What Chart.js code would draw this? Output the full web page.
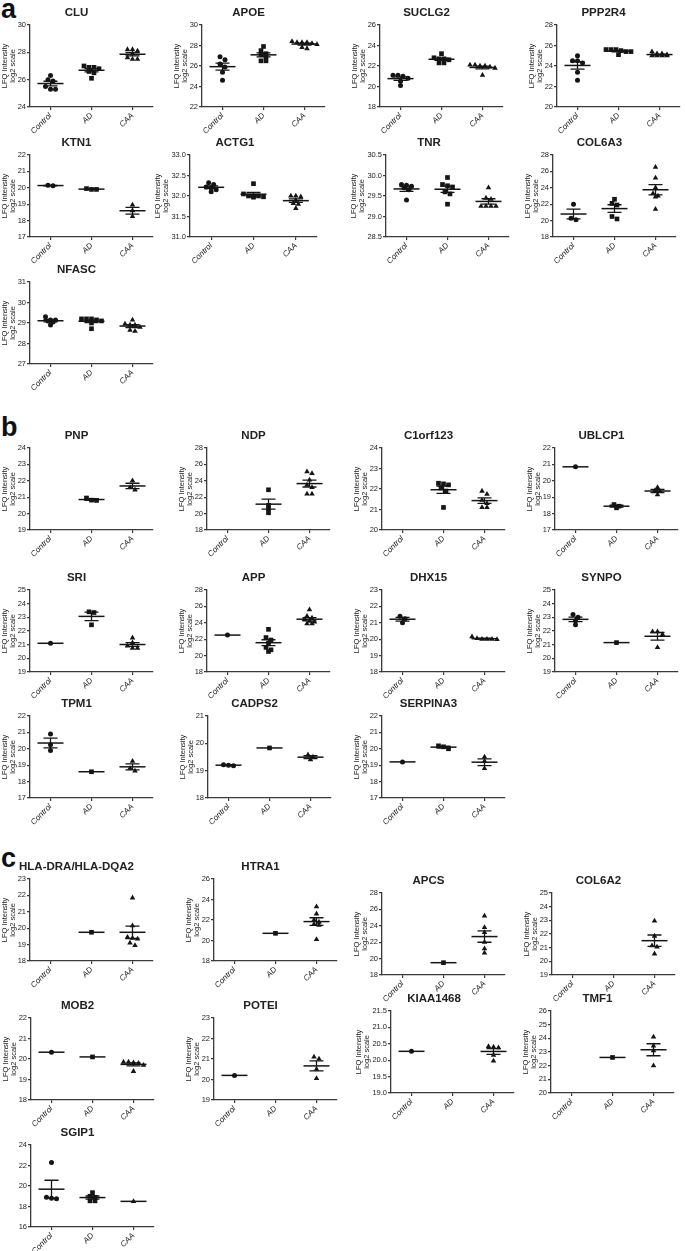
<!DOCTYPE html>
<html>
<head>
<meta charset="utf-8">
<script src="https://cdn.jsdelivr.net/npm/chart.js@4.4.0/dist/chart.umd.min.js"></script>
<style>
  body { margin: 0; background: #fff; }
  #fig { position: relative; width: 685px; height: 1251px; overflow: hidden; }
  .sec { position: absolute; left: 1px; font: bold 27px 'Liberation Sans', Arial, sans-serif; line-height: 1; color: #111; }
  canvas { position: absolute; }
</style>
</head>
<body>
<div id="fig">
  <div class="sec" style="top:-4px">a</div>
  <div class="sec" style="top:414px">b</div>
  <div class="sec" style="top:845px">c</div>
</div>
<script>
// groups on the x axis
const groups = ['Control', 'AD', 'CAA'];

// LFQ intensities (log2), one list per group: Control, AD, CAA
// panel a
const CLU = [[26.3, 26.0, 25.9, 25.5, 25.3, 25.3], [27.0, 26.9, 26.9, 26.8, 26.6, 26.5, 26.1], [28.2, 28.1, 28.2, 27.9, 27.5, 27.5, 27.6]];
const APOE = [[26.9, 26.6, 26.2, 25.9, 25.4, 24.6], [27.9, 27.5, 27.2, 27.1, 26.9, 26.5, 26.5], [28.4, 28.3, 28.3, 28.2, 28.3, 28.1, 27.7, 27.8]];
const SUCLG2 = [[21.1, 21.1, 21.0, 20.8, 20.5, 20.1], [23.2, 22.8, 22.7, 22.7, 22.6, 22.3, 22.3], [22.1, 22.1, 22.0, 22.0, 21.9, 21.8, 21.1]];
const PPP2R4 = [[25.0, 24.5, 24.5, 24.3, 23.4, 22.6], [25.6, 25.6, 25.6, 25.5, 25.4, 25.4, 25.1], [25.4, 25.2, 25.2, 25.1, 25.0, 25.0, 25.0, 25.0]];
const KTN1 = [[20.15, 20.12], [19.95, 19.9, 19.9], [18.95, 18.6, 18.25]];
const ACTG1 = [[32.32, 32.28, 32.22, 32.2, 32.15, 32.1], [32.3, 32.05, 32.0, 32.0, 32.0, 31.98, 31.97], [32.0, 32.0, 31.98, 31.9, 31.82, 31.8, 31.7]];
const TNR = [[29.78, 29.76, 29.74, 29.7, 29.65, 29.4], [29.95, 29.78, 29.75, 29.72, 29.6, 29.55, 29.3], [29.7, 29.45, 29.42, 29.25, 29.25, 29.25, 29.25]];
const COL6A3 = [[22.0, 20.3, 20.1], [22.6, 22.1, 21.9, 20.5, 20.2], [26.5, 25.2, 24.0, 23.3, 23.0, 22.9, 21.4]];
const NFASC = [[29.3, 29.15, 29.15, 29.1, 29.05, 28.9], [29.2, 29.2, 29.15, 29.2, 29.1, 29.0, 28.72], [29.15, 28.95, 28.9, 28.9, 28.8, 28.65, 28.6]];
// panel b
const PNP = [[], [20.95, 20.82, 20.8], [22.0, 21.6, 21.45]];
const NDP = [[], [22.9, 21.0, 20.6, 20.1], [25.1, 24.9, 24.1, 23.5, 23.2, 22.4, 22.4]];
const C1orf123 = [[], [22.28, 22.25, 22.2, 22.05, 21.9, 21.1], [21.9, 21.75, 21.45, 21.3, 21.1, 21.1]];
const UBLCP1 = [[20.85], [18.55, 18.45, 18.35], [19.6, 19.4, 19.35, 19.15]];
const SRI = [[21.1], [23.4, 23.35, 22.45], [21.5, 21.15, 20.9, 20.75, 20.75]];
const APP = [[22.5], [23.2, 22.2, 21.9, 21.5, 21.0, 20.7, 20.5], [25.6, 24.8, 24.6, 24.4, 24.2, 24.1, 23.9, 23.9]];
const DHX15 = [[21.4, 21.25, 21.0], [], [20.15, 20.05, 20.0, 20.0, 19.98, 20.0]];
const SYNPO = [[23.2, 23.0, 22.75, 22.45], [21.15], [21.95, 21.95, 21.75, 20.8]];
const TPM1 = [[20.9, 20.25, 19.9], [18.6], [19.25, 18.8, 18.65]];
const CADPS2 = [[19.22, 19.2, 19.18], [19.83], [19.58, 19.5, 19.4]];
const SERPINA3 = [[19.2], [20.18, 20.12, 20.0], [19.5, 19.25, 18.8]];
// panel c
const HLA_DRA_DQA2 = [[], [19.75], [21.85, 20.15, 19.45, 19.4, 19.35, 19.1, 18.95]];
const HTRA1 = [[], [20.7], [23.3, 22.6, 22.0, 21.8, 21.6, 21.5, 20.1]];
const APCS = [[], [19.5], [25.2, 23.8, 23.2, 22.0, 21.2, 20.7]];
const COL6A2 = [[], [], [22.95, 21.85, 21.15, 21.05, 20.55]];
const MOB2 = [[20.33], [20.1], [19.85, 19.85, 19.82, 19.8, 19.7, 19.4]];
const POTEI = [[20.2], [], [21.1, 21.0, 20.5, 20.05]];
const KIAA1468 = [[20.27], [], [20.42, 20.4, 20.38, 20.15, 19.98]];
const TMF1 = [[], [22.6], [24.1, 23.45, 23.1, 22.0]];
const SGIP1 = [[22.3, 18.9, 18.8, 18.75], [19.35, 19.0, 18.9, 18.55, 18.55], [18.5]];

// title, values, y min, y max, y step
const panels = [
  ['CLU', CLU, 24, 30, 2], ['APOE', APOE, 22, 30, 2], ['SUCLG2', SUCLG2, 18, 26, 2], ['PPP2R4', PPP2R4, 20, 28, 2],
  ['KTN1', KTN1, 17, 22, 1], ['ACTG1', ACTG1, 31, 33, 0.5], ['TNR', TNR, 28.5, 30.5, 0.5], ['COL6A3', COL6A3, 18, 28, 2],
  ['NFASC', NFASC, 27, 31, 1],
  ['PNP', PNP, 19, 24, 1], ['NDP', NDP, 18, 28, 2], ['C1orf123', C1orf123, 20, 24, 1], ['UBLCP1', UBLCP1, 17, 22, 1],
  ['SRI', SRI, 19, 25, 1], ['APP', APP, 18, 28, 2], ['DHX15', DHX15, 18, 23, 1], ['SYNPO', SYNPO, 19, 25, 1],
  ['TPM1', TPM1, 17, 22, 1], ['CADPS2', CADPS2, 18, 21, 1], ['SERPINA3', SERPINA3, 17, 22, 1],
  ['HLA-DRA/HLA-DQA2', HLA_DRA_DQA2, 18, 23, 1], ['HTRA1', HTRA1, 18, 26, 2], ['APCS', APCS, 18, 28, 2], ['COL6A2', COL6A2, 19, 25, 1],
  ['MOB2', MOB2, 18, 22, 1], ['POTEI', POTEI, 19, 23, 1], ['KIAA1468', KIAA1468, 19, 21.5, 0.5], ['TMF1', TMF1, 20, 26, 1],
  ['SGIP1', SGIP1, 16, 24, 2]
];

// where each plot sits: y-axis x, plot top, plot width (same order as panels)
const layoutPos = [
  [30, 25], [202, 25], [380, 25], [557, 25],
  [30, 155], [190, 155, 127], [386, 155], [553, 155],
  [30, 282],
  [30, 448], [207, 448], [382, 448], [555, 448],
  [30, 590], [207, 590], [382, 590], [555, 590],
  [30, 716], [208, 716], [382, 716],
  [30, 879], [214, 879], [382, 893], [552, 893],
  [31, 1018], [214, 1018], [391, 1011], [551, 1011],
  [31, 1145]
];
const noYTitle = ['SGIP1'];

const PLOT_H = 82, PLOT_W = 123, X_H = 32, TITLE_H = 20, PAD_R = 6;
const INK = '#151515', AXIS = '#3a3a3a';
const shapes = ['circle', 'rect', 'triangle'];
const radii = [2.5, 3.3, 3.2];
const MEAN_HW = 13, SEM_HW = 7, DOT_GAP = 5;
const sans = "'Liberation Sans', Arial, sans-serif";

// spread points of a group sideways, Prism style: near-equal values share a row
function swarm(vals, g, yMin, yMax, plotW) {
  const pyu = PLOT_H / (yMax - yMin);
  const pxu = plotW / 3;
  const order = vals.map((v, i) => i).sort((a, b) => vals[b] - vals[a]);
  const rows = [];
  order.forEach(i => {
    const r = rows[rows.length - 1];
    if (r && (vals[r[0]] - vals[i]) * pyu < 3.2) r.push(i); else rows.push([i]);
  });
  const pts = [];
  rows.forEach(r => r.forEach((i, k) => pts.push({ x: g + (k - (r.length - 1) / 2) * DOT_GAP / pxu, y: vals[i] })));
  return pts;
}

// mean line and SEM whiskers
const meanSem = {
  id: 'meanSem',
  afterDatasetsDraw(chart) {
    const { ctx, scales: { x, y } } = chart;
    ctx.save();
    ctx.strokeStyle = INK;
    chart.data.datasets.forEach((ds, g) => {
      const v = ds.vals, n = v.length;
      if (!n) return;
      const m = v.reduce((a, b) => a + b, 0) / n;
      const cx = x.getPixelForValue(g), ym = y.getPixelForValue(m);
      ctx.lineWidth = 1.5;
      ctx.beginPath();
      ctx.moveTo(cx - MEAN_HW, ym); ctx.lineTo(cx + MEAN_HW, ym);
      ctx.stroke();
      if (n > 1) {
        const sd = Math.sqrt(v.reduce((a, b) => a + (b - m) * (b - m), 0) / (n - 1));
        const se = sd / Math.sqrt(n);
        const y1 = y.getPixelForValue(m + se), y2 = y.getPixelForValue(m - se);
        ctx.lineWidth = 1.3;
        ctx.beginPath();
        ctx.moveTo(cx, y1); ctx.lineTo(cx, y2);
        ctx.moveTo(cx - SEM_HW, y1); ctx.lineTo(cx + SEM_HW, y1);
        ctx.moveTo(cx - SEM_HW, y2); ctx.lineTo(cx + SEM_HW, y2);
        ctx.stroke();
      }
    });
    ctx.restore();
  }
};

const fig = document.getElementById('fig');

panels.forEach((p, idx) => {
  const [title, data, yMin, yMax, yStep] = p;
  const lay = layoutPos[idx];
  const plotW = lay[2] || PLOT_W;
  const dec = yStep < 1 ? 1 : 0;
  const yW = dec ? 37 : 30;

  const cv = document.createElement('canvas');
  const W = yW + plotW + PAD_R, H = TITLE_H + PLOT_H + X_H;
  cv.width = W; cv.height = H;
  cv.style.width = W + 'px'; cv.style.height = H + 'px';
  cv.style.left = (lay[0] - yW) + 'px';
  cv.style.top = (lay[1] - TITLE_H) + 'px';
  fig.appendChild(cv);

  const axisGrid = { display: true, drawOnChartArea: false, drawTicks: true, tickLength: 3, color: AXIS, lineWidth: 1.2 };
  const axisBorder = { display: true, color: AXIS, width: 1.3 };

  new Chart(cv, {
    type: 'scatter',
    data: {
      datasets: data.map((vals, g) => ({
        vals: vals,
        data: swarm(vals, g, yMin, yMax, plotW),
        pointStyle: shapes[g],
        pointRadius: radii[g],
        pointBackgroundColor: INK,
        pointBorderColor: INK,
        pointBorderWidth: 0
      }))
    },
    options: {
      responsive: false,
      animation: false,
      devicePixelRatio: 1,
      layout: { padding: { left: 0, right: PAD_R, top: 0, bottom: 0 } },
      plugins: {
        legend: { display: false },
        tooltip: { enabled: false },
        title: {
          display: true,
          text: title,
          color: '#222',
          font: { family: sans, size: 11.5, weight: 'bold', lineHeight: 1.3 },
          padding: { top: 0, bottom: 5 }
        }
      },
      scales: {
        x: {
          type: 'linear',
          min: -0.5,
          max: 2.5,
          afterBuildTicks: s => { s.ticks = groups.map((_, i) => ({ value: i })); },
          afterFit: s => { s.height = X_H; },
          ticks: {
            autoSkip: false,
            minRotation: 45,
            maxRotation: 45,
            padding: 1,
            color: '#222',
            font: { family: sans, size: 8, style: 'italic' },
            callback: v => groups[v]
          },
          grid: axisGrid,
          border: axisBorder
        },
        y: {
          min: yMin,
          max: yMax,
          afterFit: s => { s.width = yW; },
          ticks: {
            stepSize: yStep,
            padding: 1,
            color: '#222',
            font: { family: sans, size: 7.5 },
            callback: v => v.toFixed(dec)
          },
          title: {
            display: !noYTitle.includes(title),
            text: ['LFQ Intensity', 'log2 scale'],
            color: '#222',
            font: { family: sans, size: 7.5, lineHeight: 1.1 },
            padding: { top: 1, bottom: 0 }
          },
          grid: axisGrid,
          border: axisBorder
        }
      }
    },
    plugins: [meanSem]
  });
});
</script>
</body>
</html>
